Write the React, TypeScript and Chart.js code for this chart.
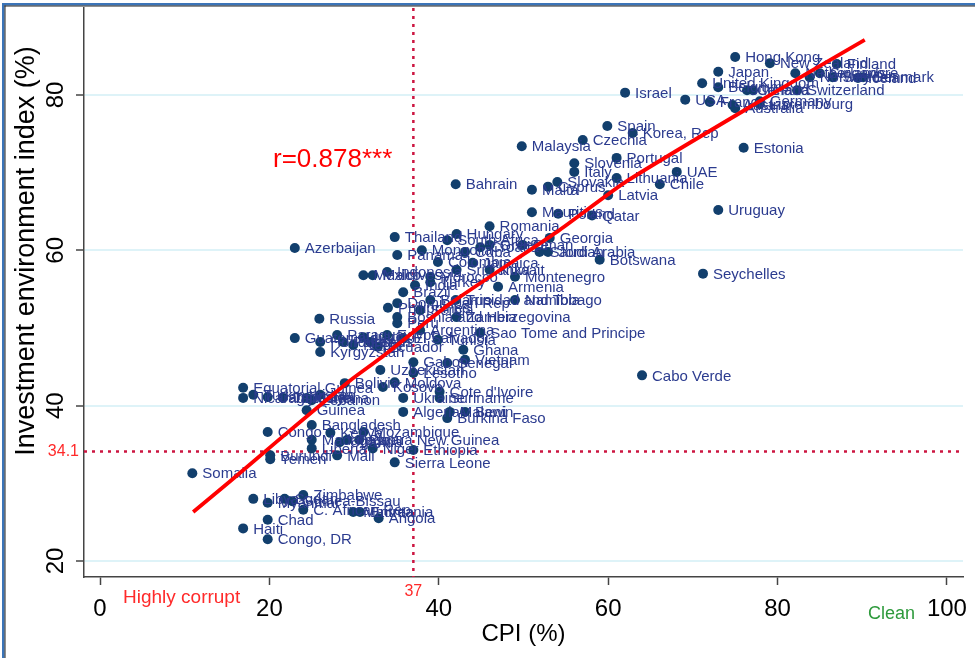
import React, { useEffect, useRef } from 'react';
import { Chart, registerables } from 'chart.js';

Chart.register(...registerables);

// Country labels, Corruption Perceptions Index and investment environment index
const COUNTRIES = [
  'Hong Kong', 'New Zealand', 'Finland', 'Japan', 'United Kingdom', 'Belgium', 'Israel', 'USA',
  'France', 'Austria', 'Australia', 'Canada', 'Ireland', 'Germany', 'Luxembourg', 'Netherlands',
  'Switzerland', 'Norway', 'Singapore', 'Sweden', 'Denmark', 'Iceland', 'Estonia', 'Uruguay',
  'Seychelles', 'Cabo Verde', 'Korea, Rep', 'Spain', 'Czechia', 'Malaysia', 'Portugal', 'Slovenia',
  'Italy', 'UAE', 'Lithuania', 'Chile', 'Slovakia', 'Cyprus', 'Malta', 'Latvia',
  'Bahrain', 'Mauritius', 'Poland', 'Qatar', 'Romania', 'Georgia', 'Hungary', 'Thailand',
  'Azerbaijan', 'Panama', 'Mongolia', 'South Africa', 'Saudi Arabia', 'Jordan', 'Oman', 'Croatia',
  'Greece', 'Botswana', 'Colombia', 'Jamaica', 'Kuwait', 'Montenegro', 'Indonesia', 'Mexico',
  'Maldives', 'India', 'Brazil', 'Turkey', 'Sri Lanka', 'Armenia', 'Namibia', 'Trinidad and Tobago',
  'Dominican Rep', 'Philippines', 'Bosnia and Herzegovina', 'Zambia', 'Peru', 'Sao Tome and Principe', 'Tunisia', 'Argentina',
  'Ghana', 'Ecuador', 'Senegal', 'Vietnam', 'Gabon', 'Lesotho', "Cote d'Ivoire", 'Suriname',
  'Ukraine', 'Moldova', 'Kosovo', 'Algeria', 'Benin', 'Malawi', 'Burkina Faso', 'Equatorial Guinea',
  'Nicaragua', 'Turkmenistan', 'Cambodia', 'Tajikistan', 'Guyana', 'Iraq', 'Bolivia', 'Guinea',
  'Bangladesh', 'Congo', 'Madagascar', 'Kenya', 'Papua New Guinea', 'Niger', 'Mali', 'Liberia',
  'Burundi', 'Yemen', 'Somalia', 'Sierra Leone', 'Ethiopia', 'Libya', 'Myanmar', 'Sudan',
  'Zimbabwe', 'Guinea-Bissau', 'C. African Rep', 'Mauritania', 'Eritrea', 'Angola', 'Chad', 'Haiti',
  'Congo, DR', 'Russia', 'Kyrgyzstan', 'Uzbekistan', 'Guatemala', 'Honduras', 'Paraguay', 'Pakistan',
  'Nepal', 'Iran', 'Laos', 'Egypt', 'El Salvador', 'Serbia', 'Belarus', 'Morocco',
  'Cuba', 'Togo', 'Mozambique', 'Uganda', 'Lebanon',
];

const CPI = [
  75.0, 79.1, 87.0, 73.0, 71.1, 73.0, 62.0, 69.1,
  72.0, 74.7, 75.0, 76.4, 77.1, 77.9, 77.9, 82.1,
  82.3, 83.8, 85.0, 86.5, 90.1, 89.5, 76.0, 73.0,
  71.2, 64.0, 62.9, 59.9, 57.0, 49.8, 61.0, 56.0,
  56.0, 68.1, 61.0, 66.1, 54.0, 52.9, 51.0, 60.0,
  42.0, 51.0, 54.1, 58.1, 46.0, 53.1, 42.1, 34.8,
  23.0, 35.1, 38.0, 41.0, 51.9, 52.9, 49.9, 44.9,
  46.0, 59.0, 39.9, 44.0, 46.0, 49.0, 33.9, 31.1,
  32.2, 37.2, 35.8, 39.0, 42.1, 47.0, 49.0, 42.0,
  35.1, 34.0, 35.1, 42.1, 35.1, 44.9, 39.9, 37.8,
  42.9, 32.8, 41.0, 43.1, 37.0, 37.0, 40.1, 40.1,
  35.8, 34.8, 33.4, 35.8, 43.1, 41.3, 41.0, 16.9,
  16.9, 18.1, 19.8, 21.6, 24.4, 26.0, 28.9, 24.4,
  25.0, 19.8, 25.0, 27.2, 30.6, 32.2, 28.0, 25.0,
  20.1, 20.1, 10.9, 34.8, 37.0, 18.1, 19.8, 21.8,
  24.0, 22.7, 24.0, 29.9, 30.7, 32.9, 19.8, 16.9,
  19.8, 25.9, 26.0, 33.1, 23.0, 26.0, 28.0, 28.7,
  29.9, 31.1, 31.9, 33.9, 35.8, 37.8, 39.0, 39.0,
  43.1, 29.2, 31.1, 28.3, 25.0,
];

const IEI = [
  84.9, 84.1, 84.0, 83.0, 81.5, 81.0, 80.3, 79.4,
  79.1, 78.7, 78.3, 80.6, 80.6, 79.2, 78.8, 82.8,
  80.6, 82.3, 82.8, 82.3, 82.3, 82.2, 73.2, 65.2,
  57.0, 43.9, 75.1, 76.0, 74.2, 73.4, 71.9, 71.2,
  70.1, 70.1, 69.3, 68.5, 68.8, 68.2, 67.8, 67.1,
  68.5, 64.9, 64.7, 64.5, 63.1, 61.6, 62.1, 61.7,
  60.3, 59.4, 60.0, 61.3, 59.8, 59.8, 60.7, 60.4,
  60.7, 58.8, 58.5, 58.4, 57.5, 56.6, 57.2, 56.8,
  56.8, 55.5, 54.6, 55.9, 57.5, 55.3, 53.6, 53.6,
  53.2, 52.6, 51.4, 51.4, 50.6, 49.4, 48.5, 49.7,
  47.2, 47.6, 45.5, 45.9, 45.6, 44.2, 41.8, 41.0,
  41.0, 43.0, 42.4, 39.2, 39.2, 39.2, 38.4, 42.3,
  41.0, 41.4, 41.1, 41.0, 41.0, 41.4, 42.9, 39.4,
  37.5, 36.6, 35.6, 36.5, 35.6, 34.5, 33.6, 34.5,
  33.6, 33.1, 31.3, 32.7, 34.3, 28.0, 27.5, 28.0,
  28.5, 27.7, 26.6, 26.3, 26.3, 25.5, 25.3, 24.2,
  22.8, 51.2, 46.9, 44.6, 48.7, 48.2, 49.1, 48.2,
  47.8, 48.8, 48.2, 49.1, 48.7, 52.3, 53.6, 56.6,
  59.8, 35.6, 36.6, 35.3, 40.7,
];

// Smoothed fit through the cloud
const FIT_CPI = [11.0, 15.4, 20.9, 29.5, 33.1, 41.3, 54.0, 62.2, 77.9, 90.3];
const FIT_IEI = [26.3, 30.3, 35.4, 43.2, 46.1, 53.1, 62.4, 68.9, 79.2, 87.1];

const X_TICKS = [0, 20, 40, 60, 80, 100];
const Y_TICKS = [20, 40, 60, 80];
const CPI_CUT = 37;
const IEI_CUT = 34.1;
const R_TEXT = 'r=0.878***';

const FONT = '"Liberation Sans", Arial, Helvetica, sans-serif';
const DOT = '#123f6d';
const LABEL = '#2b3b8f';

const decor = {
  id: 'decor',
  beforeDatasetsDraw(chart: any) {
    const { ctx, chartArea: a, scales } = chart;
    const x = scales.x;
    const y = scales.y;
    ctx.save();
    ctx.strokeStyle = '#cc1540';
    ctx.lineWidth = 2.5;
    ctx.setLineDash([3, 5]);
    const px = x.getPixelForValue(CPI_CUT);
    ctx.beginPath();
    ctx.moveTo(px, a.top);
    ctx.lineTo(px, a.bottom);
    ctx.stroke();
    const py = y.getPixelForValue(IEI_CUT);
    ctx.beginPath();
    ctx.moveTo(a.left, py);
    ctx.lineTo(a.right, py);
    ctx.stroke();
    ctx.restore();
  },
  afterDatasetDraw(chart: any, args: any) {
    if (args.index !== 0) return;
    const { ctx } = chart;
    const meta = chart.getDatasetMeta(0);
    ctx.save();
    ctx.font = `15px ${FONT}`;
    ctx.fillStyle = LABEL;
    ctx.textAlign = 'left';
    ctx.textBaseline = 'middle';
    meta.data.forEach((pt: any, i: number) => {
      ctx.fillText(COUNTRIES[i], pt.x + 10, pt.y + 1);
    });
    ctx.restore();
  },
  afterDraw(chart: any) {
    const { ctx, chartArea: a, scales, width, height } = chart;
    const x = scales.x;
    const y = scales.y;
    ctx.save();

    // figure frame
    ctx.fillStyle = '#3b74b8';
    ctx.fillRect(2, 3, 2.5, height - 3);
    ctx.fillRect(2, 3, width - 2, 2.5);
    ctx.fillStyle = '#222';
    ctx.fillRect(4.5, 5.5, 1, height - 5.5);
    ctx.fillRect(4.5, 5.5, width - 4.5, 1);

    // tick labels
    ctx.fillStyle = '#000';
    ctx.font = `24px ${FONT}`;
    ctx.textAlign = 'center';
    ctx.textBaseline = 'middle';
    X_TICKS.forEach((v) => {
      ctx.fillText(String(v), x.getPixelForValue(v), 609);
    });
    Y_TICKS.forEach((v) => {
      ctx.save();
      ctx.translate(56, y.getPixelForValue(v));
      ctx.rotate(-Math.PI / 2);
      ctx.fillText(String(v), 0, 0);
      ctx.restore();
    });

    // axis titles
    ctx.font = `24px ${FONT}`;
    ctx.fillText('CPI (%)', (a.left + a.right) / 2, 634);
    ctx.save();
    ctx.translate(27, 251);
    ctx.rotate(-Math.PI / 2);
    ctx.font = `27px ${FONT}`;
    ctx.fillText('Investment environment index (%)', 0, 0);
    ctx.restore();

    // reference-line values and zone notes
    ctx.fillStyle = '#ff2a2a';
    ctx.font = `16px ${FONT}`;
    ctx.textAlign = 'right';
    ctx.fillText(String(IEI_CUT), 79, y.getPixelForValue(IEI_CUT));
    ctx.textAlign = 'center';
    ctx.fillText(String(CPI_CUT), x.getPixelForValue(CPI_CUT), 592);
    ctx.textAlign = 'left';
    ctx.font = `19px ${FONT}`;
    ctx.fillText('Highly corrupt', 123, 598);
    ctx.fillStyle = '#2e9a3c';
    ctx.font = `18px ${FONT}`;
    ctx.fillText('Clean', 868, 614);

    ctx.fillStyle = '#ff0000';
    ctx.font = `26px ${FONT}`;
    ctx.fillText(R_TEXT, 273, 160);
    ctx.restore();
  },
};

export default function App() {
  const ref = useRef<HTMLCanvasElement | null>(null);

  useEffect(() => {
    if (!ref.current) return;
    const points = CPI.map((c, i) => ({ x: c, y: IEI[i] }));
    const fit = FIT_CPI.map((c, i) => ({ x: c, y: FIT_IEI[i] }));
    const chart = new Chart(ref.current, {
      type: 'scatter',
      data: {
        datasets: [
          {
            type: 'scatter',
            data: points,
            pointRadius: 5,
            pointHoverRadius: 5,
            pointBackgroundColor: DOT,
            pointBorderColor: DOT,
            pointBorderWidth: 0,
            order: 2,
          },
          {
            type: 'line',
            data: fit,
            borderColor: '#ff0000',
            borderWidth: 3.8,
            pointRadius: 0,
            tension: 0.2,
            fill: false,
            order: 1,
          } as any,
        ],
      },
      options: {
        responsive: false,
        animation: false,
        events: [],
        layout: { padding: { left: 0, top: 8, right: 12, bottom: 0 } },
        plugins: { legend: { display: false }, tooltip: { enabled: false } },
        scales: {
          x: {
            type: 'linear',
            min: -1.89,
            max: 101.9,
            afterBuildTicks: (s: any) => {
              s.ticks = X_TICKS.map((v) => ({ value: v }));
            },
            afterFit: (s: any) => {
              s.height = 81;
            },
            ticks: { display: false },
            grid: {
              drawOnChartArea: false,
              drawTicks: true,
              tickLength: 8,
              tickColor: '#444',
              tickWidth: 1.5,
            },
            border: { color: '#444', width: 1.5 },
          },
          y: {
            type: 'linear',
            min: 17.94,
            max: 91.2,
            afterBuildTicks: (s: any) => {
              s.ticks = Y_TICKS.map((v) => ({ value: v }));
            },
            afterFit: (s: any) => {
              s.width = 84;
            },
            ticks: { display: false },
            grid: {
              color: '#def3f8',
              lineWidth: 2,
              drawTicks: true,
              tickLength: 8,
              tickColor: '#444',
              tickWidth: 1.5,
            },
            border: { color: '#444', width: 1.5 },
          },
        },
      },
      plugins: [decor],
    });
    return () => chart.destroy();
  }, []);

  return (
    <div style={{ position: 'fixed', left: 0, top: 0, width: 975, height: 658, background: '#fff' }}>
      <canvas ref={ref} width={975} height={658} style={{ display: 'block', width: 975, height: 658 }} />
    </div>
  );
}
